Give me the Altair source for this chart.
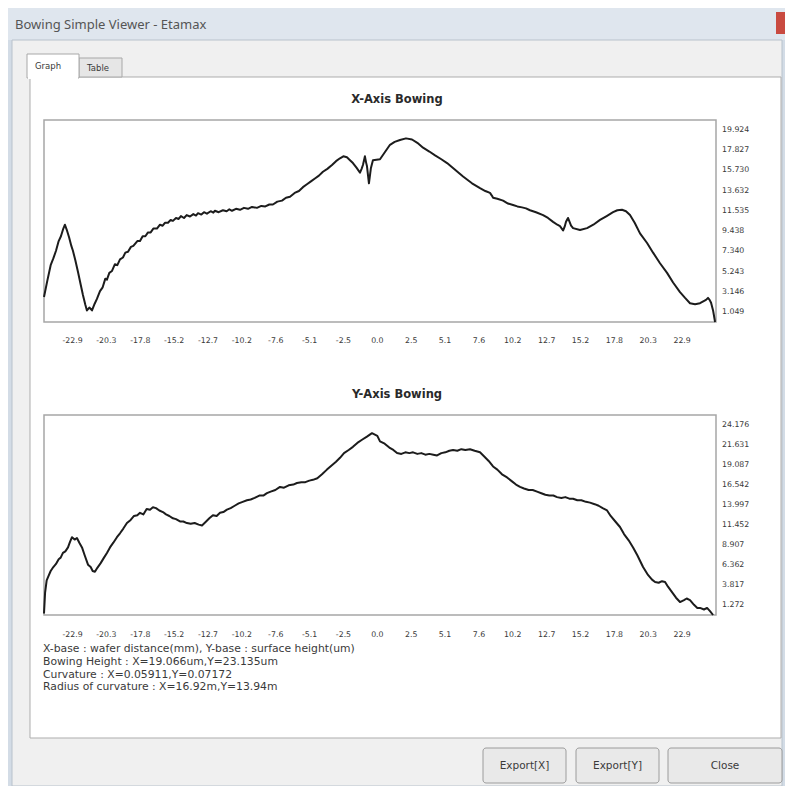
import altair as alt
import pandas as pd

# ---------------- data ----------------
X_MM = [
    -25.0, -24.75, -24.5, -24.3, -24.1, -23.9, -23.73, -23.55, -23.43, -23.3,
    -23.12, -22.95, -22.83, -22.65, -22.45, -22.25, -22.08, -21.9, -21.78, -21.6,
    -21.4, -21.2, -21.03, -20.8, -20.6, -20.4, -20.28, -20.1, -19.9, -19.68,
    -19.5, -19.3, -19.08, -18.9, -18.7, -18.48, -18.3, -18.0, -17.8, -17.6,
    -17.4, -17.2, -17.0, -16.8, -16.53, -16.3, -16.1, -15.93, -15.7, -15.5,
    -15.33, -15.1, -14.9, -14.73, -14.5, -14.3, -14.05, -13.8, -13.6, -13.45,
    -13.2, -13.0, -12.78, -12.5, -12.3, -12.18, -11.9, -11.58, -11.3, -11.1,
    -10.9, -10.6, -10.3, -10.0, -9.7, -9.4, -9.03, -8.7, -8.4, -8.1,
    -7.83, -7.5, -7.15, -6.85, -6.55, -6.2, -5.88, -5.58, -5.28, -4.98,
    -4.68, -4.38, -4.08, -3.75, -3.40, -3.1, -2.80, -2.55, -2.28, -2.05,
    -1.83, -1.55, -1.30, -1.18, -1.08, -0.93, -0.85, -0.78, -0.63, -0.48,
    -0.33, 0.2, 0.6, 0.95, 1.3, 1.70, 2.15, 2.60, 3.0, 3.43,
    3.9, 4.33, 4.8, 5.23, 5.83, 6.43, 7.10, 7.70, 8.1, 8.45,
    8.6, 8.68, 9.0, 9.43, 9.8, 10.18, 10.5, 10.85, 11.15, 11.45,
    11.9, 12.43, 12.8, 13.18, 13.5, 13.70, 13.93, 14.05, 14.15, 14.30,
    14.53, 14.68, 15.2, 15.73, 16.2, 16.70, 17.2, 17.68, 18.0, 18.35,
    18.65, 18.95, 19.3, 19.70, 20.23, 20.68, 21.2, 21.73, 22.18, 22.70,
    23.08, 23.45, 23.83, 24.2, 24.65, 24.8, 24.92, 25.03, 25.18, 25.33,
]
X_H = [
    2.6, 4.3, 5.9, 6.6, 7.4, 8.4, 8.9, 9.7, 10.1, 9.6,
    8.8, 7.9, 7.4, 6.4, 5.2, 3.9, 2.8, 1.8, 1.2, 1.5,
    1.2, 1.9, 2.4, 3.2, 3.6, 4.5, 4.4, 5.1, 5.3, 6.0,
    5.9, 6.5, 6.7, 7.2, 7.3, 7.8, 7.9, 8.4, 8.4, 8.9,
    8.9, 9.3, 9.3, 9.7, 9.7, 10.1, 10.0, 10.3, 10.3, 10.6,
    10.5, 10.8, 10.7, 11.0, 10.8, 11.1, 10.95, 11.2, 11.05, 11.3,
    11.15, 11.4, 11.25, 11.5, 11.35, 11.55, 11.4, 11.6, 11.5, 11.7,
    11.55, 11.75, 11.65, 11.85, 11.75, 11.95, 11.85, 12.05, 12.0, 12.2,
    12.2, 12.5, 12.6, 12.9, 13.0, 13.4, 13.6, 14.0, 14.3, 14.6,
    14.9, 15.2, 15.6, 15.9, 16.3, 16.7, 17.0, 17.2, 17.1, 16.8,
    16.5, 16.0, 15.5, 15.9, 16.3, 17.2, 16.6, 16.2, 14.4, 16.0,
    16.8, 16.9, 17.7, 18.4, 18.7, 18.9, 19.066, 18.95, 18.6, 18.1,
    17.7, 17.3, 16.9, 16.5, 15.8, 15.1, 14.4, 13.9, 13.6, 13.4,
    13.1, 12.9, 12.8, 12.6, 12.3, 12.15, 12.0, 11.9, 11.8, 11.6,
    11.4, 11.1, 10.8, 10.4, 10.1, 9.95, 9.5, 9.9, 10.4, 10.8,
    10.0, 9.75, 9.55, 9.75, 10.1, 10.6, 11.0, 11.4, 11.6, 11.65,
    11.5, 11.1, 10.3, 9.2, 8.2, 7.2, 6.1, 5.1, 4.1, 3.1,
    2.5, 1.95, 1.85, 1.95, 2.3, 2.5, 2.3, 2.0, 1.2, 0.0,
]

Y_MM = [
    -25.0, -24.92, -24.8, -24.65, -24.5, -24.3, -24.1, -23.9, -23.75, -23.58,
    -23.4, -23.2, -23.05, -22.9, -22.7, -22.53, -22.35, -22.15, -21.95, -21.7,
    -21.5, -21.35, -21.18, -21.0, -20.75, -20.5, -20.28, -20.05, -19.8, -19.53,
    -19.3, -19.05, -18.78, -18.5, -18.25, -18.0, -17.8, -17.55, -17.3, -17.05,
    -16.83, -16.6, -16.35, -16.08, -15.85, -15.6, -15.33, -15.1, -14.8, -14.55,
    -14.28, -14.0, -13.7, -13.4, -13.15, -12.9, -12.6, -12.33, -12.05, -11.8,
    -11.55, -11.28, -11.0, -10.7, -10.4, -10.1, -9.78, -9.5, -9.2, -8.85,
    -8.55, -8.28, -8.0, -7.65, -7.3, -7.0, -6.65, -6.3, -6.03, -5.7,
    -5.4, -5.1, -4.83, -4.5, -4.15, -3.78, -3.45, -3.1, -2.8, -2.5,
    -2.15, -1.83, -1.5, -1.15, -0.78, -0.4, 0.0, 0.2, 0.55, 0.9,
    1.2, 1.48, 1.8, 2.1, 2.4, 2.68, 3.0, 3.3, 3.6, 3.9,
    4.2, 4.48, 4.8, 5.1, 5.4, 5.68, 6.0, 6.3, 6.6, 6.95,
    7.3, 7.7, 8.0, 8.35, 8.68, 9.0, 9.35, 9.73, 10.1, 10.4,
    10.7, 11.0, 11.35, 11.65, 11.98, 12.3, 12.6, 12.9, 13.2, 13.48,
    13.8, 14.1, 14.4, 14.68, 15.0, 15.3, 15.65, 15.95, 16.3, 16.6,
    16.9, 17.23, 17.5, 17.85, 18.2, 18.5, 18.85, 19.18, 19.5, 19.93,
    20.3, 20.6, 20.83, 21.1, 21.35, 21.58, 21.8, 22.1, 22.4, 22.7,
    23.0, 23.2, 23.45, 23.75, 24.0, 24.2, 24.5, 24.73, 24.95, 25.18,
]
Y_H = [
    0.2, 2.8, 4.4, 5.0, 5.6, 6.1, 6.5, 7.1, 7.3, 7.9,
    8.1, 8.6, 9.3, 9.9, 9.6, 9.8, 9.2, 8.6, 7.6, 6.4,
    6.1, 5.6, 5.5, 6.0, 6.6, 7.3, 7.9, 8.6, 9.2, 9.9,
    10.4, 11.0, 11.7, 12.1, 12.6, 12.7, 13.0, 12.8, 13.5, 13.4,
    13.7, 13.6, 13.3, 13.1, 12.8, 12.6, 12.3, 12.2, 11.9, 11.9,
    11.7, 11.6, 11.7, 11.5, 11.4, 11.8, 12.3, 12.7, 12.6, 13.0,
    13.1, 13.4, 13.6, 13.9, 14.2, 14.4, 14.6, 14.7, 14.9, 15.2,
    15.2, 15.5, 15.7, 15.9, 16.3, 16.2, 16.5, 16.6, 16.8, 16.9,
    16.9, 17.1, 17.2, 17.4, 17.9, 18.5, 19.0, 19.5, 20.0, 20.6,
    21.0, 21.4, 21.9, 22.3, 22.7, 23.135, 22.8, 22.1, 21.8, 21.3,
    21.0, 20.6, 20.5, 20.7, 20.6, 20.7, 20.5, 20.6, 20.4, 20.5,
    20.4, 20.3, 20.6, 20.7, 20.9, 21.0, 20.9, 21.1, 21.0, 21.1,
    20.9, 20.7, 20.2, 19.6, 18.9, 18.5, 17.9, 17.5, 17.0, 16.6,
    16.3, 16.1, 15.9, 15.9, 15.7, 15.5, 15.3, 15.2, 15.2, 15.0,
    14.9, 15.0, 14.8, 14.8, 14.6, 14.6, 14.4, 14.3, 14.1, 13.9,
    13.6, 13.3, 12.6, 11.9, 11.2, 10.3, 9.5, 8.6, 7.6, 6.1,
    5.1, 4.5, 4.2, 4.1, 4.3, 4.2, 3.6, 2.9, 2.2, 1.65,
    1.9, 2.1, 1.9, 1.3, 0.9, 0.9, 0.7, 0.9, 0.5, 0.0,
]

X_TICKS = [-22.86, -20.32, -17.78, -15.24, -12.7, -10.16, -7.62, -5.08, -2.54, 0.0,
           2.54, 5.08, 7.62, 10.16, 12.7, 15.24, 17.78, 20.32, 22.86]
X_TICK_LABELS = ["-22.9", "-20.3", "-17.8", "-15.2", "-12.7", "-10.2", "-7.6", "-5.1", "-2.5", "0.0",
                 "2.5", "5.1", "7.6", "10.2", "12.7", "15.2", "17.8", "20.3", "22.9"]
X_DOMAIN = [-25.0, 25.4]

XB_TICKS = [1.049, 3.146, 5.243, 7.340, 9.438, 11.535, 13.632, 15.730, 17.827, 19.924]
XB_LABELS = ["1.049", "3.146", "5.243", "7.340", "9.438", "11.535", "13.632", "15.730", "17.827", "19.924"]
XB_MAX = 20.973

YB_TICKS = [1.272, 3.817, 6.362, 8.907, 11.452, 13.997, 16.542, 19.087, 21.631, 24.176]
YB_LABELS = ["1.272", "3.817", "6.362", "8.907", "11.452", "13.997", "16.542", "19.087", "21.631", "24.176"]
YB_MAX = 25.449

INFO_LINES = [
    "X-base : wafer distance(mm), Y-base : surface height(um)",
    "Bowing Height : X=19.066um,Y=23.135um",
    "Curvature : X=0.05911,Y=0.07172",
    "Radius of curvature :  X=16.92m,Y=13.94m",
]

# ---------------- helpers ----------------
FONT = "DejaVu Sans"
TXT = "#3a3a3a"
one = pd.DataFrame({"k": [0]})


def P(v):
    return v - 8


def box(x1, y1, x2, y2, fill, stroke=None, sw=1.0, r=0):
    kw = dict(fill=fill)
    if stroke:
        kw.update(stroke=stroke, strokeWidth=sw)
    if r:
        kw["cornerRadius"] = r
    return alt.Chart(one).mark_rect(**kw).encode(
        x=alt.value(P(x1)), x2=alt.value(P(x2)), y=alt.value(P(y1)), y2=alt.value(P(y2)))


def label(txt, x, y, size=9.0, align="left", weight="normal", color=TXT, font=FONT):
    return alt.Chart(one).mark_text(
        text=txt, align=align, baseline="middle", fontSize=size, fontWeight=weight,
        color=color, font=font).encode(x=alt.value(P(x)), y=alt.value(P(y)))


def plot(mm, h, ymax, yticks, ylabels, top, bottom, xlab_y):
    xs = alt.Scale(domain=X_DOMAIN, range=[P(44), P(716)], nice=False, zero=False)
    ys = alt.Scale(domain=[0, ymax], range=[P(bottom), P(top)], nice=False, zero=False)
    frame_df = pd.DataFrame({"x": [X_DOMAIN[0]], "x2": [X_DOMAIN[1]], "y": [0.0], "y2": [ymax]})
    frame = alt.Chart(frame_df).mark_rect(fill="white", stroke="#a6a6a6", strokeWidth=1.5).encode(
        x=alt.X("x:Q", scale=xs, axis=None), x2="x2:Q",
        y=alt.Y("y:Q", scale=ys, axis=None), y2="y2:Q")
    line = alt.Chart(pd.DataFrame({"mm": mm, "h": h})).mark_line(
        color="#1c1c1c", strokeWidth=2.0, strokeJoin="round").encode(
        x=alt.X("mm:Q", scale=xs, axis=None), y=alt.Y("h:Q", scale=ys, axis=None))
    yl = alt.Chart(pd.DataFrame({"v": yticks, "t": ylabels})).mark_text(
        align="left", baseline="middle", fontSize=7.8, font=FONT, color=TXT).encode(
        x=alt.value(P(722)), y=alt.Y("v:Q", scale=ys, axis=None), text="t:N")
    xl = alt.Chart(pd.DataFrame({"v": X_TICKS, "t": X_TICK_LABELS})).mark_text(
        align="center", baseline="middle", fontSize=7.8, font=FONT, color=TXT).encode(
        x=alt.X("v:Q", scale=xs, axis=None), y=alt.value(P(xlab_y)), text="t:N")
    return alt.layer(frame, line, yl, xl)


# ---------------- window chrome ----------------
chrome = [
    box(8, 8, 785, 786, "#d3dce6"),
    box(8, 8, 785, 40, "#dfe6ee"),
    box(12, 40, 782, 786, "#f0f0f0", "#b8c2cc"),
    box(30, 77, 781, 738, "#ffffff", "#adadad"),
    box(79, 58, 122, 77, "#e6e6e6", "#a8a8a8"),
    box(27, 54, 79, 78, "#ffffff", "#a8a8a8"),
    box(28, 76, 78, 79, "#ffffff"),
    box(776, 12, 785, 34, "#c94a40"),
    label("Bowing Simple Viewer - Etamax", 15, 25, size=13, color="#555555", font="Noto Sans"),
    label("Graph", 35, 66, size=8.5),
    label("Table", 87, 68, size=8.5),
]

buttons = [
    box(483, 748, 566, 783, "#e9e9e9", "#9c9c9c", r=3),
    box(576, 748, 659, 783, "#e9e9e9", "#9c9c9c", r=3),
    box(668, 748, 782, 783, "#e9e9e9", "#9c9c9c", r=3),
    label("Export[X]", 524.5, 766, size=10.5, align="center"),
    label("Export[Y]", 617.5, 766, size=10.5, align="center"),
    label("Close", 725, 766, size=10.5, align="center"),
]

titles = [
    label("X-Axis Bowing", 397, 100, size=11.5, align="center", weight="bold", color="#2a2a2a"),
    label("Y-Axis Bowing", 397, 395, size=11.5, align="center", weight="bold", color="#2a2a2a"),
]

info = [label(t, 43, 649 + 12.8 * i, size=10.8) for i, t in enumerate(INFO_LINES)]

px = plot(X_MM, X_H, XB_MAX, XB_TICKS, XB_LABELS, 120, 322, 341)
py = plot(Y_MM, Y_H, YB_MAX, YB_TICKS, YB_LABELS, 415, 615, 635)

chart = alt.layer(*chrome, px, py, *titles, *info, *buttons).resolve_scale(
    x="independent", y="independent"
).properties(
    width=777, height=778, padding=0, autosize=alt.AutoSizeParams(type="none")
).configure_view(stroke=None)

chart.save("out.html", embed_options={"renderer": "svg", "actions": False})
